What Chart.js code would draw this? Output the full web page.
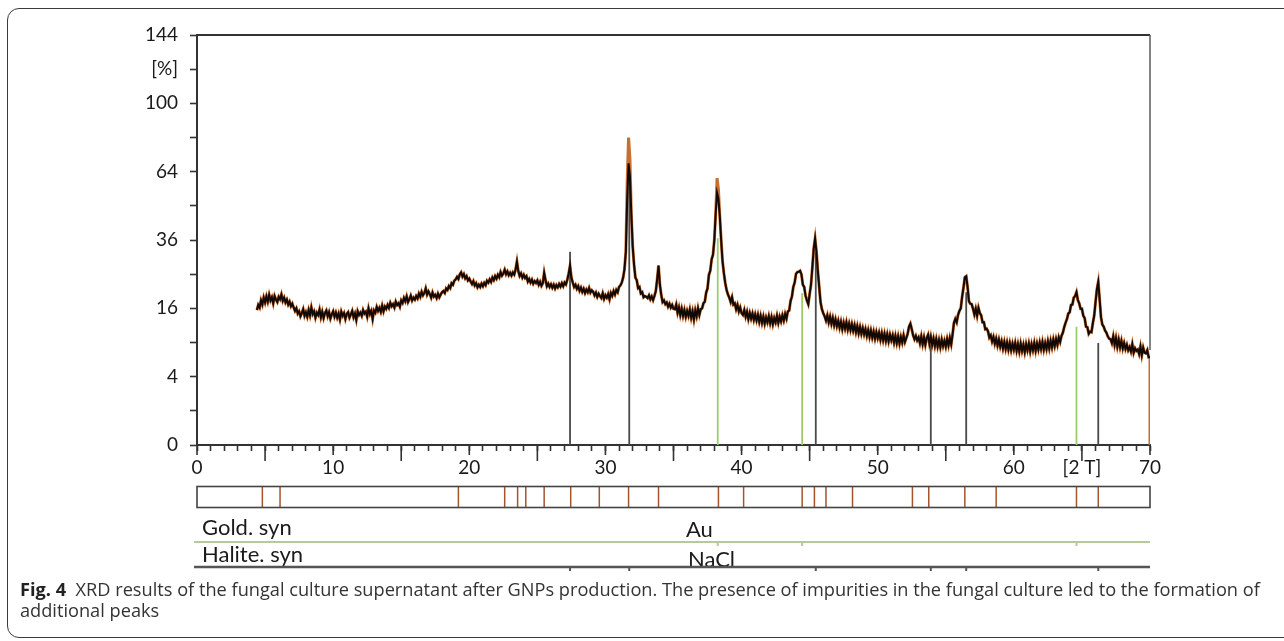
<!DOCTYPE html>
<html>
<head>
<meta charset="utf-8">
<script src="https://cdn.jsdelivr.net/npm/chart.js@4.4.1/dist/chart.umd.min.js"></script>
<style>
  html, body { margin: 0; padding: 0; background: #fff; overflow: hidden; }
  #wrap { position: absolute; left: 0; top: 0; width: 1284px; height: 641px; }
  #frame { position: absolute; left: 7px; top: 8px; width: 1300px; height: 630px;
           border: 1.3px solid #3a3a3a; border-radius: 12px; box-sizing: border-box; }
  #cv { position: absolute; left: 0; top: 0; }
  #cap { position: absolute; left: 20px; top: 579px; font-family: "Open Sans", sans-serif;
         font-size: 18.2px; line-height: 21px; color: #333; white-space: nowrap; letter-spacing: 0px; }
  #cap b { color: #222; }
</style>
</head>
<body>
<div id="wrap">
  <div id="frame"></div>
  <canvas id="cv" width="1284" height="641"></canvas>
  <div id="cap"><b>Fig. 4</b>&nbsp; XRD results of the fungal culture supernatant after GNPs production. The presence of impurities in the fungal culture led to the formation of<br>additional peaks</div>
</div>
<script>
// ---------------- DATA ----------------
// Scan grid (2θ) of the measured pattern
const scanStart = 4.4;
const scanStep = 0.1;
// Measured intensity [%], one value per 0.1° from 4.4° to 70.0°
const intensity = [
  15.6, 16.8, 16.2, 17.9, 16.9, 18.6, 17.4,                         // 4.4-5.0
  18.9, 17.6, 19.3, 17.9, 18.7, 17.2, 19.0, 18.1, 17.5, 18.8,       // 5.1-6.0
  18.2, 19.4, 17.8, 18.6, 17.4, 18.1, 16.9, 17.6, 16.5, 17.1,       // 6.1-7.0
  16.2, 15.4, 16.0, 14.8, 15.3, 14.2, 14.9, 15.8, 14.3, 15.1,       // 7.1-8.0
  14.1, 15.6, 14.4, 16.2, 14.7, 15.3, 13.9, 15.0, 14.5, 15.7,       // 8.1-9.0
  14.0, 15.2, 13.8, 14.9, 15.5, 14.2, 15.1, 13.7, 14.6, 15.3,       // 9.1-10.0
  14.1, 15.0, 13.9, 14.8, 13.5, 15.2, 14.3, 14.9, 13.6, 14.7,       // 10.1-11.0
  15.1, 13.9, 14.6, 15.4, 14.0, 14.8, 13.4, 15.3, 14.5, 15.0,       // 11.1-12.0
  14.3, 15.6, 14.8, 15.2, 14.1, 16.0, 14.7, 15.4, 13.6, 15.5,       // 12.1-13.0
  15.0, 16.3, 15.4, 16.1, 15.2, 16.6, 15.3, 16.4, 15.9, 16.8,       // 13.1-14.0
  16.1, 17.3, 16.5, 17.0, 16.2, 17.6, 16.8, 17.2, 16.4, 17.9,       // 14.1-15.0
  17.3, 18.5, 17.7, 18.9, 17.5, 18.2, 19.1, 17.9, 18.6, 18.1,       // 15.1-16.0
  19.0, 18.4, 19.6, 18.8, 20.1, 19.2, 19.8, 21.0, 19.4, 20.2,       // 16.1-17.0
  19.5, 18.6, 19.9, 18.9, 19.3, 18.5, 19.6, 18.7, 19.4, 20.0,       // 17.1-18.0
  20.3, 19.8, 21.0, 20.6, 21.6, 21.1, 22.4, 22.0, 23.1, 23.5,       // 18.1-19.0
  24.2, 23.6, 24.9, 25.5, 24.3, 25.0, 23.8, 24.4, 23.2, 23.7,       // 19.1-20.0
  22.9, 22.2, 23.0, 21.8, 22.4, 21.3, 22.0, 21.4, 22.3, 21.6,       // 20.1-21.0
  22.5, 21.9, 23.1, 22.6, 23.5, 22.8, 24.0, 23.3, 24.4, 23.7,       // 21.1-22.0
  24.8, 24.1, 25.6, 24.6, 25.2, 26.3, 25.0, 25.8, 24.7, 25.4,       // 22.1-23.0
  24.6, 25.5, 24.9, 26.4, 28.8, 25.9, 24.5, 25.2, 24.0, 24.8,       // 23.1-24.0
  23.9, 24.4, 22.9, 23.6, 22.6, 23.4, 22.3, 23.0, 22.5, 23.2,       // 24.1-25.0
  22.0, 22.8, 21.7, 22.4, 25.4, 23.3, 21.6, 22.3, 21.4, 22.1,       // 25.1-26.0
  21.2, 22.0, 21.0, 21.9, 21.3, 22.2, 21.5, 22.4, 21.6, 22.6,       // 26.1-27.0
  22.1, 23.4, 25.2, 27.5, 24.0, 22.6, 21.4, 22.0, 20.9, 21.6,       // 27.1-28.0
  20.4, 21.2, 20.1, 20.9, 19.8, 20.7, 20.0, 21.1, 19.9, 20.5,       // 28.1-29.0
  20.1, 19.2, 19.9, 18.8, 19.6, 19.0, 18.5, 19.7, 18.3, 19.2,       // 29.1-30.0
  18.6, 19.5, 18.2, 19.8, 19.1, 20.3, 19.4, 20.6, 20.0, 21.4,       // 30.1-31.0
  21.8, 22.6, 24.0, 26.5, 32.0, 52.0, 68.0, 62.0, 46.0, 34.0,       // 31.1-32.0
  28.0, 24.0, 23.3, 21.1, 21.4, 19.7, 20.0, 18.7, 19.0, 18.8,       // 32.1-33.0
  18.5, 19.2, 18.2, 18.9, 18.0, 19.0, 20.3, 23.5, 27.6, 22.0,       // 33.1-34.0
  19.3, 17.5, 17.9, 17.0, 17.4, 16.4, 17.1, 16.2, 16.8, 15.9,       // 34.1-35.0
  15.8, 16.9, 15.0, 16.2, 14.5, 15.9, 14.3, 15.6, 14.1, 15.4,       // 35.1-36.0
  14.3, 15.7, 13.9, 15.3, 13.5, 15.5, 14.2, 16.0, 14.5, 15.8,       // 36.1-37.0
  16.0, 17.2, 17.6, 19.9, 21.0, 24.8, 26.0, 29.5, 31.0, 36.0,       // 37.1-38.0
  46.0, 54.5, 52.0, 45.0, 36.0, 29.0, 25.3, 22.5, 20.6, 19.4,       // 38.1-39.0
  18.6, 17.5, 18.7, 16.9, 17.2, 15.8, 16.8, 15.3, 16.2, 14.9,       // 39.1-40.0
  14.5, 15.6, 14.1, 15.2, 13.6, 14.9, 13.7, 14.8, 13.4, 14.6,       // 40.1-41.0
  13.3, 14.5, 13.0, 14.3, 12.8, 14.1, 12.6, 13.9, 12.9, 14.2,       // 41.1-42.0
  12.7, 14.0, 12.5, 13.8, 12.9, 14.3, 12.8, 14.1, 13.1, 14.4,       // 42.1-43.0
  13.3, 14.7, 13.7, 15.3, 15.5, 17.8, 18.9, 21.4, 22.6, 25.1,       // 43.1-44.0
  25.6, 25.7, 26.0, 24.9, 22.0, 21.4, 19.1, 17.9, 17.0, 19.5,       // 44.1-45.0
  22.0, 27.0, 33.0, 36.5, 32.0, 26.0, 21.5, 17.5, 15.8, 14.9,       // 45.1-46.0
  14.2, 13.3, 14.4, 12.9, 14.1, 12.6, 13.8, 12.3, 13.5, 12.1,       // 46.1-47.0
  13.2, 11.8, 13.0, 11.5, 12.8, 11.6, 12.9, 11.4, 12.6, 11.3,       // 47.1-48.0
  12.5, 11.2, 12.3, 10.9, 12.1, 10.7, 11.9, 10.6, 11.7, 10.5,       // 48.1-49.0
  11.5, 10.2, 11.3, 10.0, 11.2, 9.9, 11.0, 9.7, 10.9, 9.8,          // 49.1-50.0
  10.8, 9.5, 10.7, 9.4, 10.6, 9.3, 10.5, 9.2, 10.4, 9.4,            // 50.1-51.0
  10.3, 9.0, 10.2, 8.9, 10.1, 8.8, 10.0, 9.0, 10.3, 9.1,            // 51.1-52.0
  9.8, 10.6, 12.0, 12.6, 11.5, 10.3, 9.6, 10.2, 9.4, 9.9,           // 52.1-53.0
  8.9, 10.1, 8.7, 9.9, 8.6, 9.8, 10.4, 8.8, 10.0, 8.6,              // 53.1-54.0
  9.7, 8.4, 9.6, 8.3, 9.4, 8.2, 9.5, 8.4, 9.3, 8.3,                 // 54.1-55.0
  9.6, 8.5, 9.8, 8.7, 10.5, 12.8, 13.6, 12.9, 14.5, 15.4,           // 55.1-56.0
  16.0, 18.8, 21.2, 24.1, 24.4, 21.4, 17.7, 17.1, 17.0, 15.9,       // 56.1-57.0
  14.6, 15.9, 14.3, 16.1, 14.9, 14.4, 12.9, 12.9, 11.5, 11.6,       // 57.1-58.0
  11.1, 9.9, 10.3, 9.2, 10.0, 8.8, 9.7, 8.5, 9.5, 8.3,              // 58.1-59.0
  9.2, 8.0, 9.1, 7.9, 9.0, 7.8, 8.9, 7.7, 8.8, 7.8,                 // 59.1-60.0
  8.9, 7.6, 8.7, 7.5, 8.8, 7.6, 8.6, 7.4, 8.7, 7.7,                 // 60.1-61.0
  8.8, 7.5, 8.7, 7.7, 8.9, 7.6, 8.8, 7.8, 9.0, 7.9,                 // 61.1-62.0
  9.1, 7.8, 8.9, 7.9, 9.2, 8.0, 9.3, 8.2, 9.5, 8.4,                 // 62.1-63.0
  9.6, 8.6, 9.9, 9.1, 10.2, 10.8, 11.9, 12.8, 13.6, 14.8,           // 63.1-64.0
  15.1, 16.8, 16.9, 18.6, 19.0, 20.0, 18.0, 17.2, 15.9, 15.9,       // 64.1-65.0
  14.3, 13.8, 12.0, 11.9, 10.6, 11.0, 10.9, 12.7, 14.3, 17.5,       // 65.1-66.0
  20.8, 22.8, 18.2, 14.0, 12.4, 12.0, 11.2, 10.8, 10.1, 9.7,        // 66.1-67.0
  9.6, 8.9, 10.1, 8.6, 9.8, 8.3, 9.5, 8.2, 9.3, 8.0,                // 67.1-68.0
  8.9, 7.9, 8.6, 7.7, 8.2, 7.5, 8.7, 7.3, 8.0, 7.6,                 // 68.1-69.0
  7.8, 7.1, 8.3, 6.9, 8.1, 7.3, 7.2, 7.7, 6.6, 6.6                  // 69.1-70.0
];
// Orange (second) trace reaches higher at the two strongest peaks
const orangeTopX = [31.6, 31.7, 31.8, 38.2, 38.3];
const orangeTopY = [60.0, 81.0, 70.0, 61.0, 56.0];
const orangeEndX = [70.0];
const orangeEndY = [0];

// Reference sticks: Halite (NaCl) and Gold (Au)
const haliteX = [27.4, 31.75, 45.45, 53.9, 56.5, 66.2];
const haliteH = [32.0, 64.0, 31.5, 8.6, 20.0, 8.9];
const goldX = [38.25, 44.45, 64.6];
const goldH = [36.6, 19.7, 12.0];

// Peak-list strip positions (2θ)
const stripX = [4.8, 6.1, 19.2, 22.6, 23.55, 24.15, 25.5, 27.45, 29.55, 31.7, 33.9,
                38.3, 40.15, 44.45, 45.35, 46.2, 48.15, 52.55, 53.75, 56.4, 58.7, 64.6, 66.2];

// Axis ticks
const yTickValues = [0, 1, 4, 9, 16, 25, 36, 49, 64, 81, 100, 121, 144];
const yTickLabels = ['0', '', '4', '', '16', '', '36', '', '64', '', '100', '[%]', '144'];
const xLabelPos = [0, 10, 20, 30, 40, 50, 60, 65, 70];
const xLabelText = ['0', '10', '20', '30', '40', '50', '60', '[2 T]', '70'];

// Phase rows
const phaseNames = ['Gold. syn', 'Halite. syn'];
const phaseFormulas = ['Au', 'NaCl'];

// ---------------- SQRT SCALE ----------------
class SqrtScale extends Chart.LinearScale {
  static id = 'sqrt';
  static defaults = Chart.LinearScale.defaults;
  buildTicks() {
    return yTickValues.map(v => ({ value: v }));
  }
  getPixelForValue(value) {
    const a = Math.sqrt(Math.max(this.min, 0)), b = Math.sqrt(this.max);
    const v = (value === null || isNaN(value)) ? NaN : Math.sqrt(Math.max(value, 0));
    return this.getPixelForDecimal((v - a) / (b - a));
  }
  getValueForPixel(pixel) {
    const a = Math.sqrt(Math.max(this.min, 0)), b = Math.sqrt(this.max);
    const s = a + this.getDecimalForPixel(pixel) * (b - a);
    return s * s;
  }
}
Chart.register(SqrtScale);

// ---------------- BUILD DATASETS ----------------
const scanPts = intensity.map((v, i) => ({ x: +(scanStart + i * scanStep).toFixed(2), y: v }));
const orangePts = scanPts.map(p => {
  const k = orangeTopX.findIndex(x => Math.abs(x - p.x) < 1e-6);
  return k >= 0 ? { x: p.x, y: orangeTopY[k] } : { x: p.x, y: p.y };
});
orangeEndX.forEach((x, i) => orangePts.push({ x: x, y: orangeEndY[i] }));

function sticks(xs, hs) {
  const out = [];
  xs.forEach((x, i) => { out.push({ x: x, y: 0 }, { x: x, y: hs[i] }, { x: x, y: null }); });
  return out;
}

const FONT = 'Lato';
Chart.defaults.font.family = FONT;
Chart.defaults.font.size = 19;
Chart.defaults.color = '#1a1a1a';

const L = 197, R = 1150, T = 35, B = 445;

const decor = {
  id: 'decor',
  afterDraw(chart) {
    const ctx = chart.ctx, xs = chart.scales.x, a = chart.chartArea;
    ctx.save();
    // top and right frame of the plot
    ctx.strokeStyle = '#333'; ctx.lineWidth = 2;
    ctx.beginPath(); ctx.moveTo(a.left, a.top); ctx.lineTo(a.right, a.top); ctx.stroke();
    ctx.strokeStyle = '#5a5a5a'; ctx.lineWidth = 1.5;
    ctx.beginPath(); ctx.moveTo(a.right, a.top); ctx.lineTo(a.right, a.bottom - 95); ctx.stroke();
    // longer ticks every 5
    ctx.strokeStyle = '#333'; ctx.lineWidth = 1.6;
    for (let v = 0; v <= 70; v += 5) {
      const px = xs.getPixelForValue(v);
      const len = (v % 10 === 0) ? 10 : 16;
      ctx.beginPath(); ctx.moveTo(px, a.bottom); ctx.lineTo(px, a.bottom + len); ctx.stroke();
    }
    // peak-list strip
    const sTop = 486.5, sBot = 507.5;
    ctx.strokeStyle = '#a3552e'; ctx.lineWidth = 1.5;
    stripX.forEach(x => {
      const px = xs.getPixelForValue(x);
      ctx.beginPath(); ctx.moveTo(px, sTop); ctx.lineTo(px, sBot); ctx.stroke();
    });
    ctx.strokeStyle = '#444'; ctx.lineWidth = 1.6;
    ctx.strokeRect(a.left, sTop, a.right - a.left, sBot - sTop);
    // phase rows
    ctx.font = '22px ' + FONT; ctx.fillStyle = '#1a1a1a'; ctx.textBaseline = 'middle'; ctx.textAlign = 'left';
    ctx.fillText(phaseNames[0], 202, 528);
    ctx.fillText(phaseFormulas[0], 686, 530);
    ctx.fillText(phaseNames[1], 202, 555);
    ctx.fillText(phaseFormulas[1], 688, 560);
    ctx.strokeStyle = '#b5c99c'; ctx.lineWidth = 2;
    ctx.beginPath(); ctx.moveTo(194, 542); ctx.lineTo(a.right, 542); ctx.stroke();
    goldX.forEach(x => {
      const px = xs.getPixelForValue(x);
      ctx.beginPath(); ctx.moveTo(px, 542); ctx.lineTo(px, 546); ctx.stroke();
    });
    ctx.strokeStyle = '#555'; ctx.lineWidth = 2.5;
    ctx.beginPath(); ctx.moveTo(194, 567); ctx.lineTo(a.right, 567); ctx.stroke();
    ctx.lineWidth = 2;
    haliteX.forEach(x => {
      const px = xs.getPixelForValue(x);
      ctx.beginPath(); ctx.moveTo(px, 567); ctx.lineTo(px, 571); ctx.stroke();
    });
    ctx.restore();
  }
};

new Chart(document.getElementById('cv'), {
  type: 'scatter',
  data: {
    datasets: [
      { label: 'Measured', data: scanPts, showLine: true, borderColor: '#120804', borderWidth: 2,
        pointRadius: 0, tension: 0, order: 0 },
      { label: 'Halite sticks', data: sticks(haliteX, haliteH), showLine: true, spanGaps: false,
        borderColor: '#4a4a4a', borderWidth: 1.8, pointRadius: 0, order: 1 },
      { label: 'Gold sticks', data: sticks(goldX, goldH), showLine: true, spanGaps: false,
        borderColor: '#9ccc6c', borderWidth: 1.8, pointRadius: 0, order: 1 },
      { label: 'Orange trace', data: orangePts, showLine: true, borderColor: 'rgb(200,110,48)', borderWidth: 3,
        pointRadius: 0, tension: 0, order: 2 }
    ]
  },
  options: {
    responsive: false,
    animation: false,
    events: [],
    layout: { padding: { left: 0, top: T, right: 1284 - R, bottom: 641 - B - 40 } },
    plugins: { legend: { display: false }, tooltip: { enabled: false }, title: { display: false } },
    scales: {
      x: {
        type: 'linear', min: 0, max: 70,
        afterFit: s => { s.height = 40; },
        border: { display: true, color: '#333', width: 2 },
        grid: { drawOnChartArea: false, drawTicks: true, tickLength: 6, tickColor: '#333', tickWidth: 1.6 },
        ticks: {
          stepSize: 1, autoSkip: false, maxRotation: 0, padding: 5, color: '#1a1a1a',
          font: { size: 19, family: FONT },
          callback: v => { const k = xLabelPos.indexOf(v); return k >= 0 ? xLabelText[k] : ''; }
        }
      },
      y: {
        type: 'sqrt', min: 0, max: 144,
        afterFit: s => { s.width = L; },
        border: { display: true, color: '#333', width: 2 },
        grid: { drawOnChartArea: false, drawTicks: true, tickLength: 7, tickColor: '#333', tickWidth: 1.6 },
        ticks: {
          autoSkip: false, padding: 12, color: '#1a1a1a', font: { size: 19, family: FONT },
          callback: (v, i) => yTickLabels[yTickValues.indexOf(v)]
        }
      }
    }
  },
  plugins: [decor]
});
</script>
</body>
</html>
